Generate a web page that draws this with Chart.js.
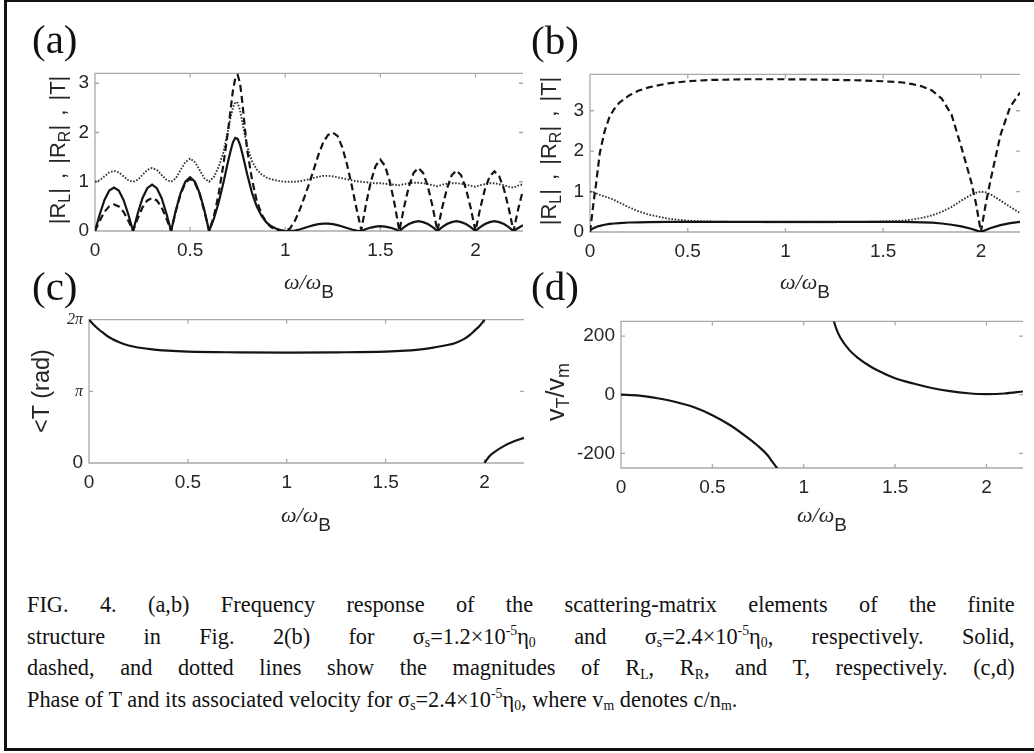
<!DOCTYPE html>
<html lang="en">
<head>
<meta charset="UTF-8">
<title>FIG. 4</title>
<script src="https://cdn.jsdelivr.net/npm/chart.js"></script>
<style>
  body { margin: 0; width: 1034px; height: 753px; background: #fff; position: relative; overflow: hidden; }
  #frame { position: absolute; left: 4px; top: 0; width: 1100px; height: 751px; box-sizing: border-box;
           border-left: 3px solid #111; border-top: 2px solid #111; border-bottom: 3px solid #111; }
  canvas { position: absolute; }
  .plbl { position: absolute; font-family: "Liberation Serif", "Times New Roman", serif; font-size: 41px; line-height: 41px; color: #111; }
  .ylab { position: absolute; height: 30px; line-height: 30px; text-align: center; white-space: nowrap;
          transform: rotate(-90deg); font-family: "Liberation Sans", Arial, sans-serif; font-size: 22px; color: #262626; }
  .ylab sub { font-size: 16px; vertical-align: -5px; line-height: 0; }
  .xlab { position: absolute; width: 140px; text-align: center; white-space: nowrap;
          font-family: "Liberation Serif", "Times New Roman", serif; font-size: 22px; line-height: 22px; color: #262626; }
  .xlab i { font-style: italic; }
  .xlab .sb { font-family: "Liberation Sans", Arial, sans-serif; font-size: 19px; position: relative; top: 9px; }
  #caption { position: absolute; left: 27px; top: 589px; width: 1062px; transform: scaleX(0.93); transform-origin: 0 0;
             font-family: "Liberation Serif", "Times New Roman", serif; font-size: 24px; color: #111; }
  #caption div { height: 31.5px; line-height: 31.5px; text-align: justify; text-align-last: justify; white-space: nowrap; }
  #caption div.last { text-align: left; text-align-last: left; }
  #caption sub, #caption sup { font-size: 0.62em; line-height: 0; position: relative; vertical-align: baseline; }
  #caption sub { top: 0.25em; }
  #caption sup { top: -0.55em; }
</style>
</head>
<body>

<div id="frame"></div>

<canvas id="chartA"></canvas>
<canvas id="chartB"></canvas>
<canvas id="chartC"></canvas>
<canvas id="chartD"></canvas>

<div class="plbl" style="left:32px; top:19px;">(a)</div>
<div class="plbl" style="left:531px; top:20px;">(b)</div>
<div class="plbl" style="left:32px; top:266px;">(c)</div>
<div class="plbl" style="left:531px; top:266px;">(d)</div>

<div class="ylab" style="left:-42px; top:135px; width:200px; word-spacing:3px;">|R<sub>L</sub>| , |R<sub>R</sub>| , |T|</div>
<div class="ylab" style="left:449px; top:136px; width:200px; word-spacing:3px;">|R<sub>L</sub>| , |R<sub>R</sub>| , |T|</div>
<div class="ylab" style="left:-59px; top:376px; width:200px; font-size:23.5px;">&lt;T (rad)</div>
<div class="ylab" style="left:455px; top:377px; width:200px; font-size:25px;">v<sub style="font-size:18px;">T</sub>/v<sub style="font-size:18px;">m</sub></div>

<div class="xlab" style="left:239px; top:271px;"><i>ω/ω</i><span class="sb">B</span></div>
<div class="xlab" style="left:735px; top:271px;"><i>ω/ω</i><span class="sb">B</span></div>
<div class="xlab" style="left:236px; top:504px;"><i>ω/ω</i><span class="sb">B</span></div>
<div class="xlab" style="left:752px; top:504px;"><i>ω/ω</i><span class="sb">B</span></div>

<div id="caption">
  <div>FIG. 4. (a,b) Frequency response of the scattering-matrix elements of the finite</div>
  <div>structure in Fig. 2(b) for σ<sub>s</sub>=1.2×10<sup>-5</sup>η<sub>0</sub> and σ<sub>s</sub>=2.4×10<sup>-5</sup>η<sub>0</sub>, respectively. Solid,</div>
  <div>dashed, and dotted lines show the magnitudes of R<sub>L</sub>, R<sub>R</sub>, and T, respectively. (c,d)</div>
  <div class="last">Phase of T and its associated velocity for σ<sub>s</sub>=2.4×10<sup>-5</sup>η<sub>0</sub>, where v<sub>m</sub> denotes c/n<sub>m</sub>.</div>
</div>

<script>
// ---- data ----

// (a) sigma_s = 1.2e-5
const xA = [0,0.025,0.05,0.075,0.1,0.125,0.15,0.175,0.2,
  0.225,0.25,0.275,0.3,0.325,0.35,0.375,0.4,
  0.425,0.45,0.475,0.5,0.525,0.55,0.575,0.6,
  0.625,0.65,0.675,0.7,
  0.7125,0.725,0.7375,0.75,0.7625,0.775,0.7875,0.8,
  0.825,0.85,0.875,0.9,0.925,0.95,0.975,1.0,
  1.025,1.05,1.075,1.1,1.125,1.15,1.175,1.2,1.225,1.25,1.275,1.3,1.325,1.35,1.375,1.4,
  1.425,1.45,1.475,1.5,1.525,1.55,1.575,1.6,
  1.625,1.65,1.675,1.7,1.725,1.75,1.775,1.8,
  1.825,1.85,1.875,1.9,1.925,1.95,1.975,2.0,
  2.025,2.05,2.075,2.1,2.125,2.15,2.175,2.2,
  2.225,2.25];
const rlA = [0,0.34,0.63,0.82,0.88,0.82,0.63,0.34,0,
  0.36,0.67,0.87,0.94,0.87,0.67,0.36,0,
  0.42,0.77,1.0,1.09,1.0,0.77,0.42,0,
  0.25,0.58,0.98,1.42,
  1.62,1.8,1.89,1.87,1.75,1.57,1.36,1.15,
  0.78,0.5,0.31,0.18,0.1,0.05,0.02,0,
  0,0.01,0.03,0.06,0.09,0.12,0.14,0.15,0.15,0.14,0.12,0.09,0.06,0.03,0.01,0,
  0.04,0.07,0.09,0.1,0.09,0.07,0.04,0,
  0.08,0.14,0.18,0.2,0.18,0.14,0.08,0,
  0.08,0.14,0.18,0.2,0.18,0.14,0.08,0,
  0.08,0.14,0.18,0.2,0.18,0.14,0.08,0,
  0.06,0.12];
const rrA = [0,0.21,0.39,0.5,0.54,0.5,0.39,0.21,0,
  0.26,0.48,0.62,0.67,0.62,0.48,0.26,0,
  0.4,0.75,0.98,1.06,0.98,0.75,0.4,0,
  0.3,0.75,1.35,2.05,
  2.45,2.85,3.1,3.17,3.0,2.6,2.1,1.65,
  1.05,0.62,0.35,0.18,0.08,0.03,0.01,0,
  0.05,0.2,0.42,0.68,0.95,1.25,1.55,1.8,1.95,2.0,1.93,1.7,1.35,0.92,0.45,0.02,
  0.55,1.0,1.32,1.45,1.32,1.0,0.55,0,
  0.49,0.9,1.18,1.28,1.18,0.9,0.49,0,
  0.47,0.86,1.13,1.23,1.13,0.86,0.47,0,
  0.46,0.85,1.11,1.21,1.11,0.85,0.46,0,
  0.45,0.83];
const tA = [1,1.03,1.11,1.19,1.22,1.19,1.11,1.03,1,
  1.04,1.14,1.24,1.28,1.24,1.14,1.04,1,
  1.07,1.24,1.4,1.47,1.4,1.24,1.07,1,
  1.1,1.3,1.6,2.05,
  2.3,2.5,2.62,2.6,2.45,2.2,1.95,1.72,
  1.42,1.25,1.15,1.09,1.05,1.03,1.01,1,
  1,1,1.01,1.03,1.05,1.08,1.1,1.12,1.12,1.11,1.09,1.07,1.05,1.03,1.01,1,
  0.99,0.98,0.97,0.97,0.96,0.95,0.94,0.93,
  0.95,0.97,0.98,0.98,0.97,0.95,0.93,0.91,
  0.94,0.96,0.97,0.97,0.96,0.94,0.92,0.9,
  0.93,0.95,0.97,0.97,0.95,0.93,0.9,0.88,
  0.92,0.95];

// (b) sigma_s = 2.4e-5
const xB = [0,0.01,0.02,0.03,0.04,0.05,0.075,0.1,0.125,0.15,0.2,0.25,0.3,0.4,0.5,0.6,0.8,1.0,1.2,1.4,
  1.5,1.6,1.65,1.7,1.75,1.8,1.85,1.9,1.95,1.975,2.0,2.025,2.05,2.1,2.15,2.2];
const rlB = [0.04,0.07,0.1,0.12,0.14,0.15,0.18,0.2,0.21,0.22,0.235,0.24,0.245,0.25,0.25,0.25,0.25,0.25,0.25,0.25,
  0.25,0.25,0.245,0.24,0.23,0.21,0.18,0.14,0.08,0.04,0,0.05,0.1,0.17,0.22,0.25];
const rrB = [0,0.4,0.8,1.15,1.55,1.95,2.5,2.85,3.05,3.2,3.38,3.5,3.58,3.68,3.73,3.76,3.78,3.78,3.77,3.75,
  3.73,3.7,3.66,3.6,3.5,3.3,2.9,2.1,1.25,0.7,0,0.7,1.3,2.4,3.1,3.45];
const tB = [1,0.99,0.98,0.96,0.94,0.92,0.88,0.84,0.79,0.73,0.61,0.51,0.43,0.33,0.28,0.26,0.245,0.24,0.24,0.25,
  0.26,0.28,0.31,0.35,0.41,0.5,0.62,0.78,0.92,0.97,1.0,0.98,0.93,0.78,0.62,0.47];

// (c) phase of T (two branches, wrapped at 2 pi)
const xC1 = [0,0.025,0.05,0.075,0.1,0.15,0.2,0.3,0.4,0.5,0.75,1.0,1.25,1.5,1.6,1.7,1.75,1.8,1.85,1.9,1.925,1.95,1.975,2.0];
const phC1 = [6.283,6.05,5.85,5.68,5.52,5.3,5.15,5.0,4.92,4.88,4.85,4.84,4.85,4.88,4.92,5.0,5.07,5.15,5.25,5.45,5.6,5.8,6.0,6.283];
const xC2 = [2.0,2.025,2.05,2.1,2.15,2.2];
const phC2 = [0,0.3,0.48,0.75,0.95,1.1];

// (d) v_T / v_m (two branches)
const xD1 = [0,0.1,0.2,0.3,0.4,0.5,0.6,0.7,0.75,0.8,0.83,0.86];
const vD1 = [0,-3,-12,-25,-43,-70,-105,-150,-175,-205,-230,-256];
const xD2 = [1.15,1.165,1.18,1.2,1.25,1.3,1.35,1.4,1.5,1.6,1.7,1.8,1.9,2.0,2.1,2.2];
const vD2 = [280,250,222,195,152,124,102,84,56,38,23,12,5,2,4,11];

// ticks
const xTicks = [0, 0.5, 1, 1.5, 2];
const yTicksA = [0, 1, 2, 3];
const yTicksB = [0, 1, 2, 3];
const yTicksC = [0, Math.PI, 2 * Math.PI];
const yLabelsC = ['0', 'π', '2π'];
const yTicksD = [-200, 0, 200];

// ---- drawing ----

const FONT = '"Liberation Sans", Arial, sans-serif';
const INK = '#141414';

function pts(xs, ys) {
  return xs.map((x, i) => ({ x: x, y: ys[i] }));
}

function solid(xs, ys) {
  return { data: pts(xs, ys), borderColor: INK, borderWidth: 2.2 };
}
function smooth(xs, ys) {
  return { data: pts(xs, ys), borderColor: INK, borderWidth: 2.2, cubicInterpolationMode: 'monotone' };
}
function dashed(xs, ys) {
  return { data: pts(xs, ys), borderColor: INK, borderWidth: 2.2, borderDash: [7, 4] };
}
function dotted(xs, ys) {
  return { data: pts(xs, ys), borderColor: '#333', borderWidth: 1.9, borderDash: [1.6, 1.6] };
}

// MATLAB-like box: grey top/left/bottom lines and inward ticks on all sides
const axesBox = {
  id: 'axesBox',
  beforeDatasetsDraw(chart) {
    const ctx = chart.ctx;
    const a = chart.chartArea;
    const sx = chart.scales.x, sy = chart.scales.y;
    ctx.save();
    ctx.strokeStyle = '#a9a9a9';
    ctx.lineWidth = 1.3;
    ctx.beginPath();
    ctx.moveTo(a.right, a.top);
    ctx.lineTo(a.left, a.top);
    ctx.lineTo(a.left, a.bottom);
    ctx.lineTo(a.right, a.bottom);
    sx.ticks.forEach(t => {
      const p = sx.getPixelForValue(t.value);
      ctx.moveTo(p, a.bottom); ctx.lineTo(p, a.bottom - 4);
      ctx.moveTo(p, a.top); ctx.lineTo(p, a.top + 4);
    });
    sy.ticks.forEach(t => {
      const p = sy.getPixelForValue(t.value);
      ctx.moveTo(a.left, p); ctx.lineTo(a.left + 4, p);
      ctx.moveTo(a.right, p); ctx.lineTo(a.right - 4, p);
    });
    ctx.stroke();
    ctx.restore();
  }
};

function makePanel(id, box, xMax, yMin, yMax, yTicks, yLabels, yFont, series) {
  const padT = 14, padR = 8, yw = 60, xh = 40;
  const cv = document.getElementById(id);
  const w = box.R - box.L + yw + padR;
  const h = box.B - box.T + padT + xh;
  cv.width = w; cv.height = h;
  cv.style.width = w + 'px'; cv.style.height = h + 'px';
  cv.style.left = (box.L - yw) + 'px';
  cv.style.top = (box.T - padT) + 'px';

  return new Chart(cv, {
    type: 'line',
    data: { datasets: series },
    options: {
      responsive: false,
      animation: false,
      devicePixelRatio: 1,
      layout: { padding: { top: padT, right: padR, left: 0, bottom: 0 } },
      plugins: { legend: { display: false }, tooltip: { enabled: false } },
      elements: { point: { radius: 0 }, line: { tension: 0, fill: false } },
      scales: {
        x: {
          type: 'linear', min: 0, max: xMax,
          grid: { display: false, drawTicks: false }, border: { display: false },
          afterBuildTicks: s => { s.ticks = xTicks.map(v => ({ value: v })); },
          afterFit: s => { s.height = xh; },
          ticks: { color: '#262626', font: { family: FONT, size: 19 }, padding: 8, maxRotation: 0, autoSkip: false,
                   callback: v => String(v) }
        },
        y: {
          type: 'linear', min: yMin, max: yMax,
          grid: { display: false, drawTicks: false }, border: { display: false },
          afterBuildTicks: s => { s.ticks = yTicks.map(v => ({ value: v })); },
          afterFit: s => { s.width = yw; },
          ticks: { color: '#262626', font: yFont, padding: 6, autoSkip: false,
                   callback: (v, i) => yLabels ? yLabels[i] : String(v) }
        }
      }
    },
    plugins: [axesBox]
  });
}

const tickFont = { family: FONT, size: 19 };

makePanel('chartA', { L: 95, T: 70, R: 523, B: 231 }, 2.25, 0, 3.2, yTicksA, null, tickFont,
  [solid(xA, rlA), dashed(xA, rrA), dotted(xA, tA)]);

makePanel('chartB', { L: 590, T: 71, R: 1020, B: 232 }, 2.2, 0, 3.9, yTicksB, null, tickFont,
  [solid(xB, rlB), dashed(xB, rrB), dotted(xB, tB)]);

makePanel('chartC', { L: 89, T: 318, R: 524, B: 463 }, 2.2, 0, 2 * Math.PI, yTicksC, yLabelsC,
  ctx => (ctx.tick && ctx.tick.value > 0) ? { family: '"Liberation Serif", serif', style: 'italic', size: 16 } : tickFont,
  [smooth(xC1, phC1), smooth(xC2, phC2)]);

makePanel('chartD', { L: 621, T: 318, R: 1023, B: 468 }, 2.2, -250, 250, yTicksD, null, tickFont,
  [smooth(xD1, vD1), smooth(xD2, vD2)]);
</script>
</body>
</html>
